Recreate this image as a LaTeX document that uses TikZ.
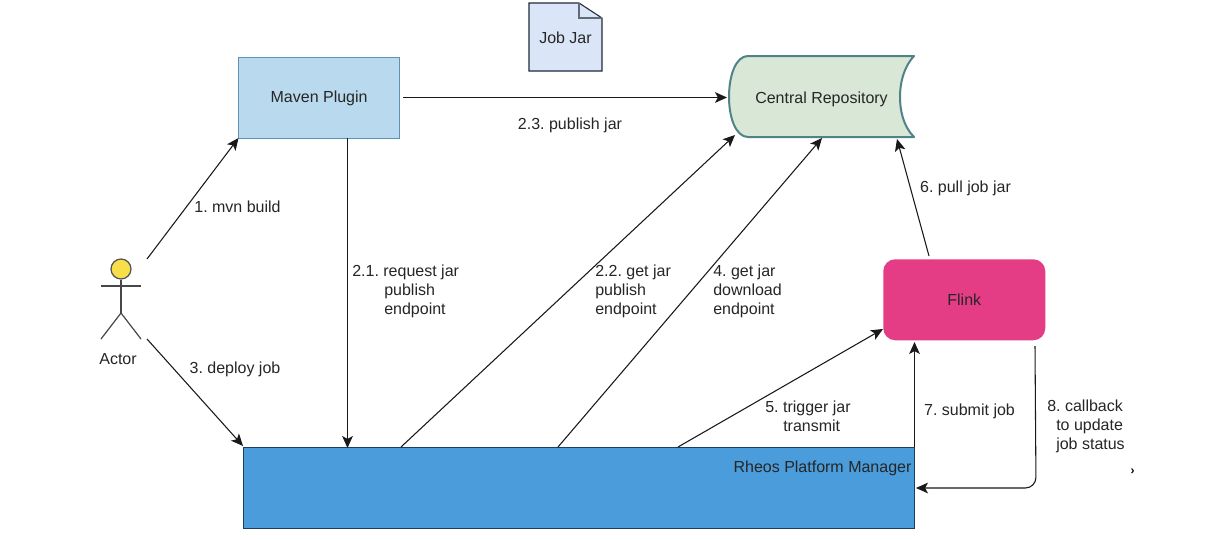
\documentclass[tikz,border=0pt]{standalone}
\usepackage{fontspec}
\setmainfont{Liberation Sans}
\frenchspacing
\usetikzlibrary{arrows.meta}
\definecolor{mavenfill}{HTML}{B9DAEE}
\definecolor{mavenline}{HTML}{5F93B3}
\definecolor{repofill}{HTML}{D9E7D7}
\definecolor{repoline}{HTML}{4F8387}
\definecolor{docfill}{HTML}{DAE6F8}
\definecolor{docline}{HTML}{1F2A3A}
\definecolor{flinkfill}{HTML}{E43D85}
\definecolor{rheosfill}{HTML}{4A9CDB}
\definecolor{rheosline}{HTML}{1C3E5C}
\definecolor{headfill}{HTML}{F8DE4B}
\definecolor{inkc}{HTML}{262626}
\tikzset{
  x=0.75pt,y=-0.75pt,
  lbl/.style={font=\fontsize{12pt}{14.25pt}\selectfont,text=inkc,align=center,inner sep=0pt},
  lbll/.style={lbl,align=left,anchor=west},
  boxnode/.style={minimum width=120.75pt,minimum height=60.75pt,inner sep=0pt,font=\fontsize{12pt}{14pt}\selectfont,text=inkc},
  conn/.style={draw=black!90,line width=0.8pt,-{Stealth[length=9pt,width=8pt,inset=2.2pt]}},
  stick/.style={draw=inkc!85,line width=0.9pt}
}
\begin{document}
\begin{tikzpicture}
\useasboundingbox (0,0) rectangle (1224,539);
\fill[white] (0,0) rectangle (1224,539);
% nodes
\node[boxnode,anchor=north west,fill=mavenfill,draw=mavenline,line width=0.9pt] (maven) at (238,57) {\raisebox{-1.2pt}{Maven Plugin}};
\node[boxnode,anchor=north west,fill=flinkfill,rounded corners=9pt,minimum width=121.5pt] (flink) at (883,259) {Flink};
\node[anchor=north west,fill=rheosfill,draw=rheosline,line width=0.9pt,minimum width=503pt,minimum height=60.75pt,inner sep=0pt] (rheos) at (243,447) {};
\node[lbl] (rheostext) at (822.5,468) {Rheos Platform Manager};
% document
\draw[fill=docfill,draw=docline,line width=0.8pt] (529,3) -- (579,3) -- (602,18) -- (602,71) -- (529,71) -- cycle;
\draw[draw=docline!70,line width=0.8pt] (579,3) -- (579,18) -- (602,18);
\node[lbl] (jobjar) at (565.5,37.5) {Job Jar};
% repository
\draw[fill=repofill,draw=repoline,line width=1.5pt,line join=round] (748,56) -- (914,56) .. controls (903,68) and (900,84) .. (900,97) .. controls (900,110) and (903,126) .. (914,137) -- (748,137) .. controls (736,137) and (729,118) .. (729,97) .. controls (729,75) and (736,56) .. (748,56) -- cycle;
\node[lbl] (repo) at (821.5,99) {Central Repository};
% actor
\node[circle,fill=headfill,draw=inkc!80,line width=0.9pt,minimum size=15pt,inner sep=0pt] (head) at (121,269) {};
\coordinate (hip) at (121,313);
\coordinate (armL) at (101,286);
\coordinate (armR) at (141,286);
\coordinate (legL) at (101,339);
\coordinate (legR) at (141,339);
\draw[stick] (head.south) -- (hip);
\draw[stick] (armL) -- (armR);
\draw[stick] (legL) -- (hip) -- (legR);
\node[lbl] (actor) at (118,359.5) {Actor};
% connector ends
\coordinate (a1) at (147,259);
\coordinate (a2) at (147,339);
\coordinate (m1) at (238.5,138);
\coordinate (r1) at (243,446);
\coordinate (m2) at (403,97.5);
\coordinate (c1) at (727,97.5);
\coordinate (m3) at (347.5,138);
\coordinate (r2) at (347.5,448);
\coordinate (r3) at (401,447);
\coordinate (c2) at (735,135);
\coordinate (r4) at (558,447);
\coordinate (c3) at (822,138);
\coordinate (r5) at (678,447);
\coordinate (f1) at (883,329);
\coordinate (f2) at (929,256);
\coordinate (c4) at (897,139);
\coordinate (r6) at (914.5,447);
\coordinate (f3) at (914.5,342);
\coordinate (f4) at (1035,346);
\coordinate (bend) at (1036,488);
\coordinate (r7) at (916,488);
% connectors
\draw[conn] (a1) -- (m1);
\draw[conn] (a2) -- (r1);
\draw[conn] (m2) -- (c1);
\draw[conn] (m3) -- (r2);
\draw[conn] (r3) -- (c2);
\draw[conn] (r4) -- (c3);
\draw[conn] (r5) -- (f1);
\draw[conn] (f2) -- (c4);
\draw[conn] (r6) -- (f3);
\draw[conn,rounded corners=8pt] (f4) -- (bend) -- (r7);
% labels
\node[lbl] (l1) at (237.5,206.5) {1. mvn build};
\node[lbl] (l3) at (235,369.5) {3. deploy job};
\node[lbl] (l23) at (570,125) {2.3. publish jar};
\node[lbll] (l21) at (352,291.5) {2.1. request jar\\\hspace*{24pt}publish\\\hspace*{24pt}endpoint};
\node[lbll] (l22) at (595,291.5) {2.2. get jar\\publish\\endpoint};
\node[lbll] (l4) at (713,291.5) {4. get jar\\download\\endpoint};
\node[lbll] (l5) at (765,416.5) {5. trigger jar\\\hspace*{13.5pt}transmit};
\node[lbl] (l6) at (965.5,188) {6. pull job jar};
\node[lbl] (l7) at (969.5,411) {7. submit job};
\node[lbll] (l8) at (1047,426) {8. callback\\\hspace*{6.75pt}to update\\\hspace*{6.75pt}job status};
\node[lbl,font=\fontsize{9pt}{10pt}\selectfont\bfseries,text=black] (mark) at (1132.5,472) {›};
\end{tikzpicture}
\end{document}
